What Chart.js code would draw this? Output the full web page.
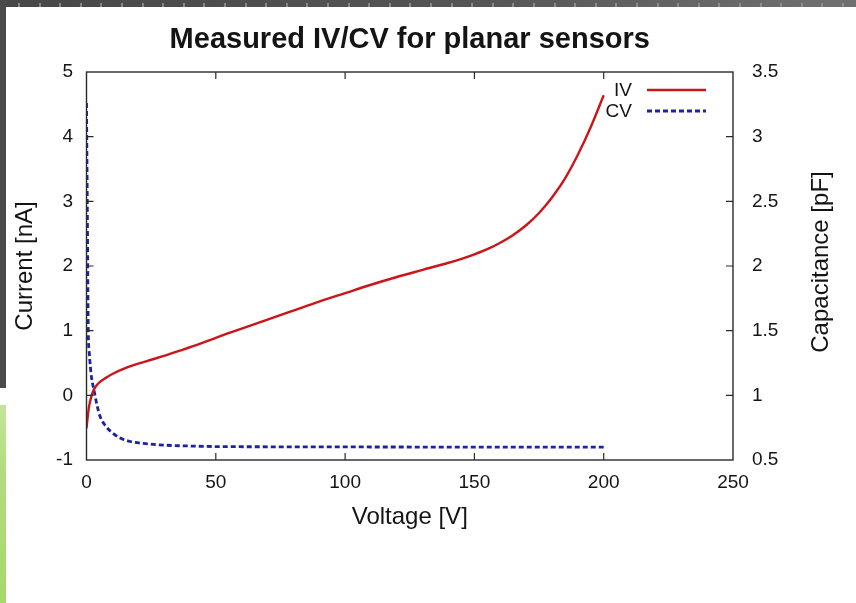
<!DOCTYPE html>
<html>
<head>
<meta charset="utf-8">
<title>Measured IV/CV for planar sensors</title>
<script src="https://cdn.jsdelivr.net/npm/chart.js@4/dist/chart.umd.min.js"></script>
<style>
  html, body { margin: 0; padding: 0; background: #fff; }
  #wrap { position: relative; width: 856px; height: 603px; overflow: hidden; background: #fff; }
  .topbar { position: absolute; left: 0; top: 0; width: 856px; height: 7px;
            background: linear-gradient(to right, #474747, #555 55%, #717171); }
  .dots { position: absolute; left: 0; top: 3px; width: 856px; height: 4px;
          background: repeating-linear-gradient(90deg, transparent 0 18px, rgba(150,150,150,0.8) 18px 20px, transparent 20px 20.6px); }
  .leftbar { position: absolute; left: 0; top: 0; width: 6px; height: 388px; background: #4a4a4a; }
  .greenbar { position: absolute; left: 0; top: 405px; width: 6px; height: 198px;
              background: linear-gradient(to bottom, #c4e59c, #b2dd80 30%, #a7d86b); }
  canvas { position: absolute; left: 0; top: 0; }
</style>
</head>
<body>
<div id="wrap">
  <div class="topbar"></div>
  <div class="dots"></div>
  <div class="leftbar"></div>
  <div class="greenbar"></div>
  <canvas id="chart" width="856" height="603"></canvas>
</div>
<script>
// Bias voltage [V] and leakage current [nA] of the IV scan
const ivVoltage = [0, 0.5, 1, 2, 3, 4, 5, 7.5, 10, 15, 20, 25, 30, 36, 44, 50, 60, 70, 80, 90,
                   100, 110, 120, 130, 140, 145, 150, 155, 160, 165, 170, 175, 180, 185, 190, 195, 200];
const ivCurrent = [-0.51, -0.32, -0.17, 0.0, 0.1, 0.16, 0.2, 0.27, 0.33, 0.42, 0.49, 0.55, 0.61, 0.69, 0.8, 0.89, 1.03, 1.17, 1.31, 1.45,
                   1.58, 1.71, 1.83, 1.94, 2.05, 2.11, 2.18, 2.26, 2.36, 2.48, 2.63, 2.82, 3.06, 3.35, 3.72, 4.15, 4.64];

// Bias voltage [V] and capacitance [pF] of the CV scan
const cvVoltage = [0, 0.3, 0.7, 1, 1.5, 2, 3, 4, 5.2, 7.5, 10, 13, 17, 22, 30, 40, 50, 75, 100, 150, 200];
const cvCapacitance = [3.26, 2.5, 1.48, 1.35, 1.22, 1.13, 1.03, 0.93, 0.84, 0.76, 0.71, 0.67, 0.643, 0.628, 0.615, 0.608, 0.604, 0.602, 0.601, 0.6, 0.6];

// Axis ranges and tick steps
const xRange = [0, 250, 50];
const currentRange = [-1, 5, 1];
const capRange = [0.5, 3.5, 0.5];

// Axis titles
const xTitle = 'Voltage [V]';
const yTitle = 'Current [nA]';
const y2Title = 'Capacitance [pF]';

const FONT = '"Liberation Sans", Arial, Helvetica, sans-serif';
const INK = '#141414';

const toPoints = (xs, ys) => xs.map((x, i) => ({ x: x, y: ys[i] }));
const plainNumber = v => String(Number(v.toFixed(2)));

// Plot border with inward tick marks, gnuplot style
const frameTicks = {
  id: 'frameTicks',
  afterDatasetsDraw(chart) {
    const { ctx, chartArea: a, scales } = chart;
    const L = 7;
    ctx.save();
    ctx.strokeStyle = '#2a2a2a';
    ctx.lineWidth = 1.4;
    ctx.strokeRect(a.left, a.top, a.right - a.left, a.bottom - a.top);
    ctx.lineWidth = 1.2;
    ctx.beginPath();
    scales.x.ticks.forEach(t => {
      const px = scales.x.getPixelForValue(t.value);
      if (px <= a.left + 1 || px >= a.right - 1) return;
      ctx.moveTo(px, a.bottom); ctx.lineTo(px, a.bottom - L);
      ctx.moveTo(px, a.top); ctx.lineTo(px, a.top + L);
    });
    scales.y.ticks.forEach(t => {
      const py = scales.y.getPixelForValue(t.value);
      if (py <= a.top + 1 || py >= a.bottom - 1) return;
      ctx.moveTo(a.left, py); ctx.lineTo(a.left + L, py);
    });
    scales.y2.ticks.forEach(t => {
      const py = scales.y2.getPixelForValue(t.value);
      if (py <= a.top + 1 || py >= a.bottom - 1) return;
      ctx.moveTo(a.right, py); ctx.lineTo(a.right - L, py);
    });
    ctx.stroke();
    ctx.restore();
  }
};

// Right-hand axis title, read bottom to top like the left one
const rightTitle = {
  id: 'rightTitle',
  afterDraw(chart) {
    const { ctx, chartArea: a } = chart;
    ctx.save();
    ctx.font = '24px ' + FONT;
    ctx.fillStyle = INK;
    ctx.textAlign = 'center';
    ctx.textBaseline = 'middle';
    ctx.translate(821, (a.top + a.bottom) / 2 - 4);
    ctx.rotate(-Math.PI / 2);
    ctx.fillText(y2Title, 0, 0);
    ctx.restore();
  }
};

// Key in the top-right corner: label first, line sample after it
const keyBox = {
  id: 'keyBox',
  afterDatasetsDraw(chart) {
    const { ctx } = chart;
    const textRight = 632, lineFrom = 647, lineTo = 706;
    const rows = [90, 111];
    ctx.save();
    ctx.font = '19px ' + FONT;
    ctx.textAlign = 'right';
    ctx.textBaseline = 'middle';
    chart.data.datasets.forEach((ds, i) => {
      const y = rows[i];
      ctx.fillStyle = INK;
      ctx.fillText(ds.label, textRight, y + 1);
      ctx.strokeStyle = ds.borderColor;
      ctx.lineWidth = ds.borderWidth;
      ctx.setLineDash(ds.borderDash || []);
      ctx.beginPath();
      ctx.moveTo(lineFrom, y);
      ctx.lineTo(lineTo, y);
      ctx.stroke();
    });
    ctx.restore();
  }
};

new Chart(document.getElementById('chart'), {
  type: 'line',
  data: {
    datasets: [
      {
        label: 'IV',
        data: toPoints(ivVoltage, ivCurrent),
        yAxisID: 'y',
        borderColor: '#cc1518',
        borderWidth: 2.4,
        pointRadius: 0,
        cubicInterpolationMode: 'monotone',
        fill: false
      },
      {
        label: 'CV',
        data: toPoints(cvVoltage, cvCapacitance),
        yAxisID: 'y2',
        borderColor: '#1c22a6',
        borderWidth: 2.8,
        borderDash: [5, 3],
        pointRadius: 0,
        cubicInterpolationMode: 'monotone',
        fill: false
      }
    ]
  },
  options: {
    responsive: false,
    animation: false,
    layout: { padding: 0 },
    plugins: {
      legend: { display: false },
      tooltip: { enabled: false },
      title: {
        display: true,
        text: 'Measured IV/CV for planar sensors',
        fullSize: false,
        color: INK,
        font: { family: FONT, size: 29, weight: 'bold', lineHeight: 1.2 },
        padding: { top: 22.6, bottom: 14.6 }
      }
    },
    scales: {
      x: {
        type: 'linear',
        min: xRange[0], max: xRange[1],
        grid: { display: false, drawTicks: false },
        border: { display: false },
        ticks: { stepSize: xRange[2], color: INK, padding: 11, font: { family: FONT, size: 19 }, callback: plainNumber },
        title: { display: true, text: xTitle, color: INK, font: { family: FONT, size: 24, lineHeight: 1.2 }, padding: { top: 0, bottom: 71.6 } },
        afterFit(s) { s.height = 143; }
      },
      y: {
        type: 'linear', position: 'left',
        min: currentRange[0], max: currentRange[1],
        grid: { display: false, drawTicks: false },
        border: { display: false },
        ticks: { stepSize: currentRange[2], color: INK, padding: 13.5, font: { family: FONT, size: 19 }, callback: plainNumber },
        title: { display: true, text: yTitle, color: INK, font: { family: FONT, size: 24, lineHeight: 1.2 }, padding: { top: 10.6, bottom: 0 } },
        afterFit(s) { s.width = 86.5; }
      },
      y2: {
        type: 'linear', position: 'right',
        min: capRange[0], max: capRange[1],
        grid: { display: false, drawTicks: false },
        border: { display: false },
        ticks: { stepSize: capRange[2], color: INK, padding: 19, font: { family: FONT, size: 19 }, callback: plainNumber },
        title: { display: false },
        afterFit(s) { s.width = 123; }
      }
    }
  },
  plugins: [frameTicks, keyBox, rightTitle]
});
</script>
</body>
</html>
